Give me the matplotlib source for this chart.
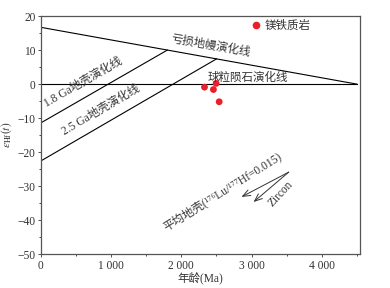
import matplotlib
matplotlib.use("Agg")
import matplotlib.pyplot as plt
from matplotlib.lines import Line2D

# ── Data ──────────────────────────────────────────────────────────────────────

# evolution lines: (age Ma, eHf) end points
dm_age = [0, 4500]
dm_ehf = [16.7, 0.0]
chur_age = [0, 4500]
chur_ehf = [0.0, 0.0]
crust18_age = [0, 1800]
crust18_ehf = [-11.4, 10.0]
crust25_age = [0, 2500]
crust25_ehf = [-22.6, 7.4]

# zircon samples (mafic rocks)
sample_age = [2330, 2496, 2457, 2539]
sample_ehf = [-0.9, 0.2, -1.6, -5.2]

# average crust arrows: start -> heads
arrow_start = (3530, -25.9)
arrow_heads = [(2857, -33.2), (3029, -34.7)]

x_ticks = [0, 1000, 2000, 3000, 4000]
x_ticklabels = ["0", "1 000", "2 000", "3 000", "4 000"]
y_ticks = [-50, -40, -30, -20, -10, 0, 10, 20]

# ── Style ─────────────────────────────────────────────────────────────────────

plt.rcParams['font.family'] = ['Liberation Serif', 'Noto Sans CJK SC', 'DejaVu Sans']
plt.rcParams['mathtext.fontset'] = 'stix'
FS = 8.3
TXT = '#333333'
LINE_KW = dict(color='black', lw=0.8)

fig = plt.figure(figsize=(3.9, 2.88), dpi=100)
ax = fig.add_axes([0.105, 0.118, 0.818, 0.826])

ax.plot(dm_age, dm_ehf, **LINE_KW)
ax.plot(chur_age, chur_ehf, **LINE_KW)
ax.plot(crust18_age, crust18_ehf, **LINE_KW)
ax.plot(crust25_age, crust25_ehf, **LINE_KW)

ax.scatter(sample_age, sample_ehf, s=24, color='#e8202a', edgecolor='none',
           zorder=3)

for head in arrow_heads:
    ax.annotate('', xy=head, xytext=arrow_start,
                arrowprops=dict(arrowstyle='->,head_length=0.55,head_width=0.22',
                                lw=0.7, color=TXT, shrinkA=0, shrinkB=0))

# labels (anchored at their centre, rotated along the lines)
def label(x, y, s, rot=0):
    ax.text(x, y, s, rotation=rot, rotation_mode='anchor', ha='center',
            va='center', fontsize=FS, color=TXT)

label(2420, 11.2, '亏损地幔演化线', -10)
label(2950, 1.9, '球粒陨石演化线')
label(600, 0.4, '1.8 Ga地壳演化线', 30)
label(850, -7.6, '2.5 Ga地壳演化线', 30.5)
label(2578, -31.5, '平均地壳(¹⁷⁶Lu/¹⁷⁷Hf=0.015)', 32)
label(3420, -32.4, 'Zircon', 47)

legend_handle = Line2D([], [], ls='none', marker='o', ms=5.5,
                       color='#e8202a', mec='none')
ax.legend([legend_handle], ['镁铁质岩'], loc='center left', frameon=False,
          bbox_to_anchor=(0.659, 0.958), handlelength=0.8, handletextpad=0.4,
          borderpad=0, borderaxespad=0, fontsize=FS, labelcolor=TXT)

ax.set_xlim(0, 4545)
ax.set_ylim(-50, 20)
ax.set_xticks(x_ticks)
ax.set_xticklabels(x_ticklabels)
ax.set_yticks(y_ticks)
ax.set_xticks([500, 1500, 2500, 3500, 4500], minor=True)
ax.set_yticks([-45, -35, -25, -15, -5, 5, 15], minor=True)
ax.tick_params(direction='out', length=2.5, width=0.6, labelsize=FS,
               pad=1.5, colors=TXT)
ax.tick_params(which='minor', direction='out', length=1.5, width=0.5)
for sp in ax.spines.values():
    sp.set_linewidth(0.9)
    sp.set_color('#555555')

ax.set_xlabel('年龄(Ma)', fontsize=FS, labelpad=0, color=TXT)
ax.set_ylabel(r'$\varepsilon_{\rm Hf}(t)$', fontsize=FS, labelpad=2, color=TXT)

fig.savefig('out.png', dpi=100)
